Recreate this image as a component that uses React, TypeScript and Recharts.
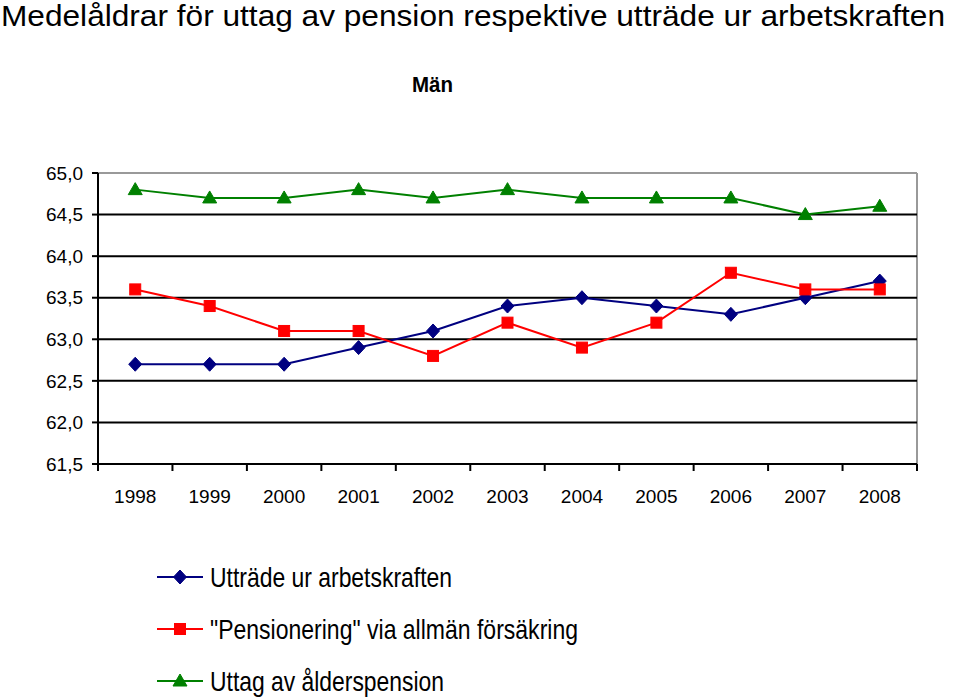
import React from "react";
import {
  LineChart,
  Line,
  XAxis,
  YAxis,
  CartesianGrid,
  Legend,
} from "recharts";

const years = ["1998", "1999", "2000", "2001", "2002", "2003", "2004", "2005", "2006", "2007", "2008"];
const uttrade = [62.7, 62.7, 62.7, 62.9, 63.1, 63.4, 63.5, 63.4, 63.3, 63.5, 63.7];
const pensionering = [63.6, 63.4, 63.1, 63.1, 62.8, 63.2, 62.9, 63.2, 63.8, 63.6, 63.6];
const uttag = [64.8, 64.7, 64.7, 64.8, 64.7, 64.8, 64.7, 64.7, 64.7, 64.5, 64.6];
const yTicks = [61.5, 62.0, 62.5, 63.0, 63.5, 64.0, 64.5, 65.0];
const gridValues = [62.0, 62.5, 63.0, 63.5, 64.0, 64.5];

const seriesNames = {
  uttrade: "Utträde ur arbetskraften",
  pensionering: '"Pensionering" via allmän försäkring',
  uttag: "Uttag av ålderspension",
};

const data = years.map((year, i) => ({
  year,
  uttrade: uttrade[i],
  pensionering: pensionering[i],
  uttag: uttag[i],
}));

const W = 960;
const H = 697;
const PLOT_LEFT = 98;
const PLOT_RIGHT = 917;
const PLOT_TOP = 173;
const PLOT_BOTTOM = 464;
const Y_AXIS_W = 70;
const X_AXIS_H = 40;
const STEP = (PLOT_RIGHT - PLOT_LEFT) / years.length;

const NAVY = "#000080";
const RED = "#FF0000";
const GREEN = "#008000";
const FONT = "'Liberation Sans', Arial, sans-serif";

function Marker({ kind, cx, cy }: { kind: string; cx: number; cy: number }) {
  if (kind === "diamond") {
    return (
      <polygon
        points={`${cx},${cy - 7} ${cx + 6.5},${cy} ${cx},${cy + 7} ${cx - 6.5},${cy}`}
        fill={NAVY}
        stroke={NAVY}
      />
    );
  }
  if (kind === "square") {
    return <rect x={cx - 5.5} y={cy - 5.5} width={11} height={11} fill={RED} stroke={RED} />;
  }
  return (
    <polygon
      points={`${cx},${cy - 7} ${cx + 7},${cy + 5} ${cx - 7},${cy + 5}`}
      fill={GREEN}
      stroke={GREEN}
    />
  );
}

const makeDot = (kind: string) => (props: any) => {
  const { cx, cy, index } = props;
  if (cx == null || cy == null) return <g key={index} />;
  return <Marker key={`${kind}-${index}`} kind={kind} cx={cx} cy={cy} />;
};

// year label plus tick marks that sit between the categories
function YearTick(props: any) {
  const { x, y, payload, index } = props;
  const top = PLOT_BOTTOM;
  return (
    <g>
      <line x1={x - STEP / 2} y1={top} x2={x - STEP / 2} y2={top + 7} stroke="#000" strokeWidth={2} />
      {index === years.length - 1 && (
        <line x1={x + STEP / 2} y1={top} x2={x + STEP / 2} y2={top + 7} stroke="#000" strokeWidth={2} />
      )}
      <text x={x} y={y + 31} textAnchor="middle" fontSize={19} fontFamily={FONT} fill="#000">
        {payload.value}
      </text>
    </g>
  );
}

const legendItems = [
  { key: "uttrade", color: NAVY, kind: "diamond", len: 242 },
  { key: "pensionering", color: RED, kind: "square", len: 368 },
  { key: "uttag", color: GREEN, kind: "triangle", len: 234 },
];

function LegendContent() {
  return (
    <svg width={600} height={150}>
      {legendItems.map((item, i) => {
        const cy = 17 + i * 52;
        return (
          <g key={item.key}>
            <line x1={2} y1={cy} x2={48} y2={cy} stroke={item.color} strokeWidth={2} />
            <Marker kind={item.kind} cx={25} cy={cy} />
            <text
              x={55}
              y={cy + 10}
              fontSize={28}
              fontFamily={FONT}
              fill="#000"
              textLength={item.len}
              lengthAdjust="spacingAndGlyphs"
            >
              {seriesNames[item.key as keyof typeof seriesNames]}
            </text>
          </g>
        );
      })}
    </svg>
  );
}

export default function App() {
  return (
    <div style={{ position: "absolute", left: 0, top: 0, width: W, height: H, background: "#fff" }}>
      <LineChart
        width={W}
        height={H}
        data={data}
        margin={{
          top: PLOT_TOP,
          left: PLOT_LEFT - Y_AXIS_W,
          right: W - PLOT_RIGHT,
          bottom: H - PLOT_BOTTOM - X_AXIS_H,
        }}
      >
        {/* grey plot frame: top and right edge */}
        <CartesianGrid
          stroke="#999"
          strokeWidth={2}
          horizontalValues={[65]}
          verticalCoordinatesGenerator={({ offset }: any) => [offset.left + offset.width]}
        />
        <CartesianGrid
          vertical={false}
          stroke="#000"
          strokeWidth={2}
          horizontalValues={gridValues}
        />
        <XAxis
          dataKey="year"
          height={X_AXIS_H}
          padding={{ left: STEP / 2, right: STEP / 2 }}
          tickLine={false}
          axisLine={{ stroke: "#000", strokeWidth: 2 }}
          tick={<YearTick />}
          interval={0}
        />
        <YAxis
          width={Y_AXIS_W}
          domain={[61.5, 65]}
          ticks={yTicks}
          interval={0}
          tickFormatter={(v: number) => v.toFixed(1).replace(".", ",")}
          tickSize={6}
          tickMargin={9}
          tickLine={{ stroke: "#000", strokeWidth: 2 }}
          axisLine={{ stroke: "#000", strokeWidth: 2 }}
          tick={{ fontSize: 19, fontFamily: FONT, fill: "#000" }}
        />
        <Line
          dataKey="uttrade"
          name={seriesNames.uttrade}
          stroke={NAVY}
          strokeWidth={2}
          dot={makeDot("diamond")}
          activeDot={false}
          isAnimationActive={false}
        />
        <Line
          dataKey="pensionering"
          name={seriesNames.pensionering}
          stroke={RED}
          strokeWidth={2}
          dot={makeDot("square")}
          activeDot={false}
          isAnimationActive={false}
        />
        <Line
          dataKey="uttag"
          name={seriesNames.uttag}
          stroke={GREEN}
          strokeWidth={2}
          dot={makeDot("triangle")}
          activeDot={false}
          isAnimationActive={false}
        />
        <Legend
          layout="horizontal"
          verticalAlign="middle"
          align="center"
          content={<LegendContent />}
          wrapperStyle={{ position: "absolute", left: 155, top: 560, width: 600, height: 150 }}
        />
      </LineChart>
      <svg
        width={W}
        height={H}
        style={{ position: "absolute", left: 0, top: 0, pointerEvents: "none" }}
      >
        <text
          x={1}
          y={26}
          fontSize={29}
          fontFamily={FONT}
          fill="#000"
          textLength={944}
          lengthAdjust="spacingAndGlyphs"
        >
          Medelåldrar för uttag av pension respektive utträde ur arbetskraften
        </text>
        <text
          x={412}
          y={92}
          fontSize={22}
          fontWeight="bold"
          fontFamily={FONT}
          fill="#000"
          textLength={41}
          lengthAdjust="spacingAndGlyphs"
        >
          Män
        </text>
      </svg>
    </div>
  );
}
